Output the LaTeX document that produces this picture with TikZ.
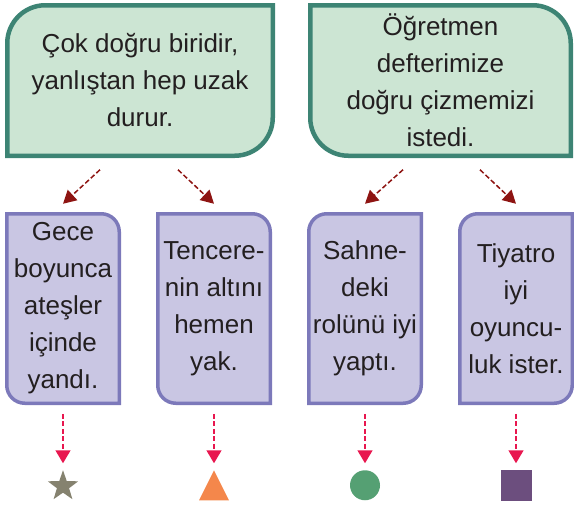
\documentclass[tikz,border=0pt]{standalone}
\usepackage{fontspec}
\setmainfont{Liberation Sans}
\usetikzlibrary{arrows.meta,positioning,shapes.geometric,backgrounds}
\definecolor{ink}{HTML}{231F20}
\definecolor{boxgreen}{HTML}{CCE5D3}
\definecolor{edgegreen}{HTML}{3D8474}
\definecolor{boxlilac}{HTML}{C9C6E3}
\definecolor{edgelilac}{HTML}{7C79BA}
\definecolor{darkred}{HTML}{8E1412}
\definecolor{hotpink}{HTML}{E8174F}
\definecolor{starolive}{HTML}{85826F}
\definecolor{triorange}{HTML}{F4874B}
\definecolor{dotgreen}{HTML}{55A073}
\definecolor{sqpurple}{HTML}{6C4E7E}
\tikzset{
    x=1pt,y=-1pt,
    topbox/.style={inner sep=0pt,outer sep=0pt,minimum height=150.5pt,align=center,text=ink,font=\fontsize{26}{37}\selectfont},
    subbox/.style={inner sep=0pt,outer sep=0pt,minimum width=112.5pt,minimum height=189.5pt,align=center,text=ink,font=\fontsize{26}{37}\selectfont},
    greenframe/.style={fill=boxgreen,draw=edgegreen,line width=4.5pt},
    lilacframe/.style={fill=boxlilac,draw=edgelilac,line width=3.5pt},
    linkarrow/.style={-{Triangle[length=13pt,width=14pt]},draw=darkred,line width=1.5pt,dash pattern=on 5pt off 2.5pt},
    droparrow/.style={-{Triangle[length=13pt,width=15pt]},draw=hotpink,line width=1.5pt,dash pattern=on 5pt off 2.5pt,shorten >=7pt},
    symbol/.style={inner sep=0pt,outer sep=0pt,draw=none}
}
\begin{document}
\begin{tikzpicture}
    \useasboundingbox (0,0) rectangle (574,506);

    % sentence boxes
    \node (t1) [topbox,minimum width=265.5pt] at (140,80.5) {Çok doğru biridir,\\yanlıştan hep uzak\\durur.};
    \node (t2) [topbox,minimum width=260.5pt,right=37.5pt of t1] {Öğretmen\\defterimize\\doğru çizmemizi\\istedi.};

    % meaning boxes
    \node (b1) [subbox] at (63,308.5) {Gece\\boyunca\\ateşler\\içinde\\yandı.};
    \node (b2) [subbox,right=38.5pt of b1] {Tencere-\\nin altını\\hemen\\yak.};
    \node (b3) [subbox,right=38.5pt of b2] {Sahne-\\deki\\rolünü iyi\\yaptı.};
    \node (b4) [subbox,right=38.5pt of b3] {Tiyatro\\iyi\\oyuncu-\\luk ister.};

    % symbols
    \node (s1) [symbol,star,star points=5,star point ratio=2.5,minimum size=32pt,fill=starolive,below=67pt of b1] {};
    \node (s2) [symbol,minimum size=30pt,below=67pt of b2] {};
    \fill[triorange] (s2.north) -- (s2.south east) -- (s2.south west) -- cycle;
    \node (s3) [symbol,circle,minimum size=30pt,fill=dotgreen,below=67pt of b3] {};
    \node (s4) [symbol,rectangle,minimum size=31pt,fill=sqpurple,below=67pt of b4] {};

    \begin{scope}[on background layer]
        \path[greenframe] (t1.north) [sharp corners] -- (t1.north east) [rounded corners=38pt] -- (t1.south east) [sharp corners] -- (t1.south west) [rounded corners=38pt] -- (t1.north west) [sharp corners] -- cycle;
        \path[greenframe] (t2.north) [rounded corners=38pt] -- (t2.north east) [sharp corners] -- (t2.south east) [rounded corners=38pt] -- (t2.south west) [sharp corners] -- (t2.north west) -- cycle;
        \path[lilacframe] (b1.north) [rounded corners=18pt] -- (b1.north east) [sharp corners] -- (b1.south east) [rounded corners=18pt] -- (b1.south west) [sharp corners] -- (b1.north west) -- cycle;
        \path[lilacframe] (b2.north) [rounded corners=18pt] -- (b2.north east) [sharp corners] -- (b2.south east) [rounded corners=18pt] -- (b2.south west) [sharp corners] -- (b2.north west) -- cycle;
        \path[lilacframe] (b3.north) [sharp corners] -- (b3.north east) [rounded corners=18pt] -- (b3.south east) [sharp corners] -- (b3.south west) [rounded corners=18pt] -- (b3.north west) [sharp corners] -- cycle;
        \path[lilacframe] (b4.north) [sharp corners] -- (b4.north east) [rounded corners=18pt] -- (b4.south east) [sharp corners] -- (b4.south west) [rounded corners=18pt] -- (b4.north west) [sharp corners] -- cycle;
    \end{scope}

    % arrows
    \draw[linkarrow] ([xshift=-40pt,yshift=-14pt]t1.south) -- ([yshift=10pt]b1.north);
    \draw[linkarrow] ([xshift=38pt,yshift=-14pt]t1.south) -- ([yshift=10pt]b2.north);
    \draw[linkarrow] ([xshift=-37.5pt,yshift=-14pt]t2.south) -- ([yshift=10pt]b3.north);
    \draw[linkarrow] ([xshift=39.5pt,yshift=-14pt]t2.south) -- ([yshift=10pt]b4.north);

    \draw[droparrow] ([yshift=-10.5pt]b1.south) -- (s1.north);
    \draw[droparrow] ([yshift=-10.5pt]b2.south) -- (s2.north);
    \draw[droparrow] ([yshift=-10.5pt]b3.south) -- (s3.north);
    \draw[droparrow] ([yshift=-10.5pt]b4.south) -- (s4.north);
\end{tikzpicture}
\end{document}
